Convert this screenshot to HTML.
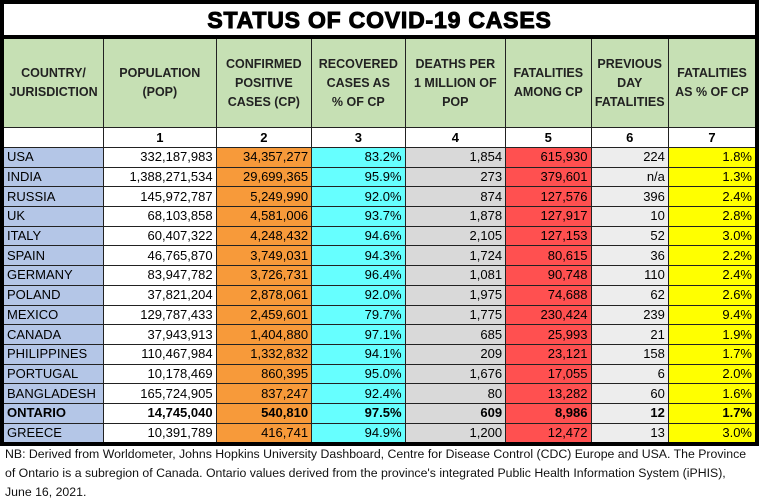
<!DOCTYPE html>
<html><head><style>
body{margin:0;background:#fff;width:763px;height:504px;overflow:hidden;font-family:"Liberation Sans",sans-serif;}
table{position:absolute;left:0;top:0;border-collapse:collapse;table-layout:fixed;width:759px;border:4px solid #000;}
td{border:1px solid #222;padding:0 3px;font-size:13px;height:18.7px;line-height:18px;text-align:right;white-space:nowrap;overflow:hidden;}
td:first-child{text-align:left;background:#b4c6e7;}
.t td{height:31px;text-align:center;font-size:23px;font-weight:900;letter-spacing:0.8px;-webkit-text-stroke:1px #000;border-bottom:4px solid #000;background:#fff;}
.h td{height:88px;background:#c6e0b4;text-align:center;font-weight:bold;font-size:12.5px;line-height:19px;white-space:nowrap;color:#222;}
.n td{background:#fff;text-align:center;font-weight:bold;height:19px;}
td:nth-child(3){background:#f79a3a}
td:nth-child(4){background:#66ffff}
td:nth-child(5){background:#d9d9d9}
td:nth-child(6){background:#ff5050}
td:nth-child(7){background:#ededed}
td:nth-child(8){background:#ffff00}
.b td{font-weight:bold}
.f{position:absolute;left:5px;top:445px;font-size:12.3px;line-height:19px;color:#111;white-space:nowrap;}
</style></head><body>
<table>
<colgroup><col style="width:101px"><col style="width:112px"><col style="width:95px"><col style="width:93px"><col style="width:100px"><col style="width:85px"><col style="width:77px"><col style="width:88px"></colgroup>
<tr class="t"><td colspan="8" style="text-align:center;background:#fff">STATUS OF COVID-19 CASES</td></tr>
<tr class="h"><td style="background:#c6e0b4;text-align:center">COUNTRY/<br>JURISDICTION</td><td style="background:#c6e0b4">POPULATION<br>(POP)</td><td style="background:#c6e0b4">CONFIRMED<br>POSITIVE<br>CASES (CP)</td><td style="background:#c6e0b4">RECOVERED<br>CASES AS<br>% OF CP</td><td style="background:#c6e0b4">DEATHS PER<br>1 MILLION OF<br>POP</td><td style="background:#c6e0b4">FATALITIES<br>AMONG CP</td><td style="background:#c6e0b4">PREVIOUS<br>DAY<br>FATALITIES</td><td style="background:#c6e0b4">FATALITIES<br>AS % OF CP</td></tr>
<tr class="n"><td style="background:#fff"></td><td style="background:#fff">1</td><td style="background:#fff">2</td><td style="background:#fff">3</td><td style="background:#fff">4</td><td style="background:#fff">5</td><td style="background:#fff">6</td><td style="background:#fff">7</td></tr>
<tr><td>USA</td><td>332,187,983</td><td>34,357,277</td><td>83.2%</td><td>1,854</td><td>615,930</td><td>224</td><td>1.8%</td></tr>
<tr><td>INDIA</td><td>1,388,271,534</td><td>29,699,365</td><td>95.9%</td><td>273</td><td>379,601</td><td>n/a</td><td>1.3%</td></tr>
<tr><td>RUSSIA</td><td>145,972,787</td><td>5,249,990</td><td>92.0%</td><td>874</td><td>127,576</td><td>396</td><td>2.4%</td></tr>
<tr><td>UK</td><td>68,103,858</td><td>4,581,006</td><td>93.7%</td><td>1,878</td><td>127,917</td><td>10</td><td>2.8%</td></tr>
<tr><td>ITALY</td><td>60,407,322</td><td>4,248,432</td><td>94.6%</td><td>2,105</td><td>127,153</td><td>52</td><td>3.0%</td></tr>
<tr><td>SPAIN</td><td>46,765,870</td><td>3,749,031</td><td>94.3%</td><td>1,724</td><td>80,615</td><td>36</td><td>2.2%</td></tr>
<tr><td>GERMANY</td><td>83,947,782</td><td>3,726,731</td><td>96.4%</td><td>1,081</td><td>90,748</td><td>110</td><td>2.4%</td></tr>
<tr><td>POLAND</td><td>37,821,204</td><td>2,878,061</td><td>92.0%</td><td>1,975</td><td>74,688</td><td>62</td><td>2.6%</td></tr>
<tr><td>MEXICO</td><td>129,787,433</td><td>2,459,601</td><td>79.7%</td><td>1,775</td><td>230,424</td><td>239</td><td>9.4%</td></tr>
<tr><td>CANADA</td><td>37,943,913</td><td>1,404,880</td><td>97.1%</td><td>685</td><td>25,993</td><td>21</td><td>1.9%</td></tr>
<tr><td>PHILIPPINES</td><td>110,467,984</td><td>1,332,832</td><td>94.1%</td><td>209</td><td>23,121</td><td>158</td><td>1.7%</td></tr>
<tr><td>PORTUGAL</td><td>10,178,469</td><td>860,395</td><td>95.0%</td><td>1,676</td><td>17,055</td><td>6</td><td>2.0%</td></tr>
<tr><td>BANGLADESH</td><td>165,724,905</td><td>837,247</td><td>92.4%</td><td>80</td><td>13,282</td><td>60</td><td>1.6%</td></tr>
<tr class="b"><td>ONTARIO</td><td>14,745,040</td><td>540,810</td><td>97.5%</td><td>609</td><td>8,986</td><td>12</td><td>1.7%</td></tr>
<tr><td>GREECE</td><td>10,391,789</td><td>416,741</td><td>94.9%</td><td>1,200</td><td>12,472</td><td>13</td><td>3.0%</td></tr>
</table>
<div class="f">NB: Derived from Worldometer, Johns Hopkins University Dashboard, Centre for Disease Control (CDC) Europe and USA. The Province<br>of Ontario is a subregion of Canada. Ontario values derived from the province's integrated Public Health Information System (iPHIS),<br>June 16, 2021.</div>
</body></html>
